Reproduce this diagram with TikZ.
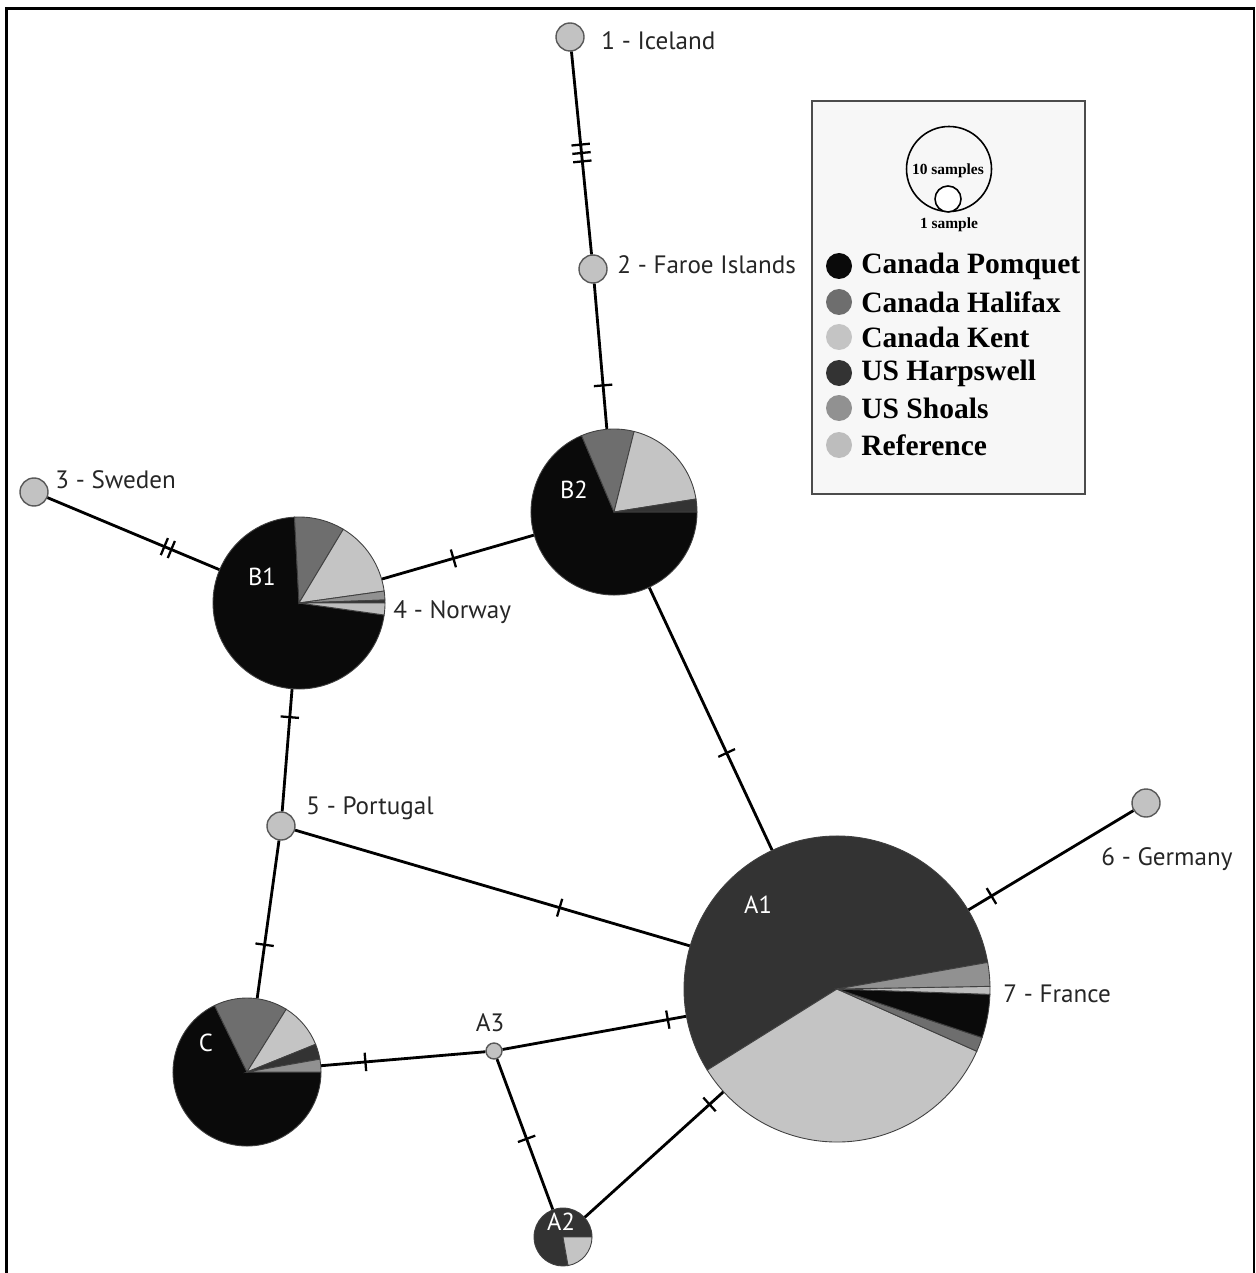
\documentclass[tikz,border=0pt]{standalone}
\usepackage{fontspec}
\setmainfont{PT Sans}
\newfontfamily\legendfont{Liberation Serif}
\usetikzlibrary{positioning}

\definecolor{pomquet}{gray}{0.04}
\definecolor{halifax}{gray}{0.43}
\definecolor{kent}{gray}{0.77}
\definecolor{harpswell}{gray}{0.2}
\definecolor{shoals}{gray}{0.57}
\definecolor{reference}{gray}{0.74}
\definecolor{sitegray}{gray}{0.76}

% one wedge of a haplotype pie: node, start, end, radius, colour
\newcommand{\pieslice}[5]{%
  \filldraw[fill=#5, draw=black!75, line width=0.5pt] (#1.center) -- ++(#2:#4)
    arc[start angle=#2, end angle=#3, radius=#4] -- cycle;}
\newcommand{\onebar}{\rule{1.3pt}{10.5pt}}
\newcommand{\twobar}{\onebar\hspace{3pt}\onebar}
\newcommand{\threebar}{\onebar\hspace{3.5pt}\onebar\hspace{3.5pt}\onebar}

\tikzset{
  site/.style={circle, fill=sitegray, draw=black!65, line width=0.8pt, minimum size=28*0.02cm, inner sep=0},
  hap/.style={circle, minimum size=#1*0.04cm, inner sep=0},
  link/.style={line width=1.6pt},
  mutbar/.style={sloped, inner sep=0, pos=#1},
  place/.style={anchor=west, inner sep=0, text=black!85, font=\fontsize{14.3}{16}\selectfont},
  hapname/.style={text=white, inner sep=0, font=\fontsize{14}{16}\selectfont},
  legtext/.style={anchor=west, inner sep=0, font=\legendfont\bfseries\fontsize{16.8}{19}\selectfont},
  legsmall/.style={inner sep=0, font=\legendfont\bfseries\fontsize{8.8}{9}\selectfont},
}

\begin{document}
\begin{tikzpicture}[x=0.02cm, y=0.02cm]
        \useasboundingbox (0,0) rectangle (1255,-1273);
        \draw[line width=1.5pt] (6.3,-1273) -- (6.3,-8.2) -- (1253.8,-8.2) -- (1253.8,-1273);

        % sampling sites
        \node[site] (ice) at (570,-37) {};
        \node[site] (far) at (593,-269) {};
        \node[site] (swe) at (34,-492) {};
        \node[site] (por) at (281,-826) {};
        \node[site] (ger) at (1146,-803) {};
        \node[site, minimum size=16*0.02cm] (A3) at (494,-1051) {};
        % haplotypes
        \node[hap=86] (B1) at (299,-603) {};
        \node[hap=83] (B2) at (614,-512) {};
        \node[hap=153] (A1) at (837,-989) {};
        \node[hap=74] (C) at (247,-1072) {};
        \node[hap=29] (A2) at (563,-1237) {};

        % links with mutation steps
        \draw[link] (ice) -- node[mutbar=.5] {\threebar} (far);
        \draw[link] (far) -- node[mutbar=.7] {\onebar} (B2);
        \draw[link] (swe) -- node[mutbar=.7] {\twobar} (B1);
        \draw[link] (B1) -- node[mutbar=.47] {\onebar} (B2);
        \draw[link] (B2) -- node[mutbar=.63] {\onebar} (A1);
        \draw[link] (B1) -- node[mutbar=.23] {\onebar} (por);
        \draw[link] (por) -- node[mutbar=.67] {\onebar} (A1);
        \draw[link] (por) -- node[mutbar=.66] {\onebar} (C);
        \draw[link] (C) -- node[mutbar=.27] {\onebar} (A3);
        \draw[link] (A3) -- node[mutbar=.9] {\onebar} (A1);
        \draw[link] (A3) -- node[mutbar=.53] {\onebar} (A2);
        \draw[link] (A2) -- node[mutbar=.9] {\onebar} (A1);
        \draw[link] (ger) -- node[mutbar=.86] {\onebar} (A1);

        % pies
        \pieslice{B1}{93}{352}{86}{pomquet}
        \pieslice{B1}{59}{93}{86}{halifax}
        \pieslice{B1}{8}{59}{86}{kent}
        \pieslice{B1}{2}{8}{86}{shoals}
        \pieslice{B1}{0}{2}{86}{harpswell}
        \pieslice{B1}{-8}{0}{86}{reference}

        \pieslice{B2}{113}{360}{83}{pomquet}
        \pieslice{B2}{76}{113}{83}{halifax}
        \pieslice{B2}{9}{76}{83}{kent}
        \pieslice{B2}{0}{9}{83}{harpswell}

        \pieslice{A1}{10}{212}{153}{harpswell}
        \pieslice{A1}{212}{336}{153}{kent}
        \pieslice{A1}{336}{341.5}{153}{halifax}
        \pieslice{A1}{341.5}{358}{153}{pomquet}
        \pieslice{A1}{358}{361}{153}{reference}
        \pieslice{A1}{361}{370}{153}{shoals}

        \pieslice{C}{116}{360}{74}{pomquet}
        \pieslice{C}{58}{116}{74}{halifax}
        \pieslice{C}{22}{58}{74}{kent}
        \pieslice{C}{10}{22}{74}{harpswell}
        \pieslice{C}{0}{10}{74}{shoals}

        \pieslice{A2}{0}{280}{29}{harpswell}
        \pieslice{A2}{280}{360}{29}{kent}

        % names
        \node[hapname] (B1name) at (262,-577) {B1};
        \node[hapname] (B2name) at (574,-490) {B2};
        \node[hapname] (A1name) at (758,-905) {A1};
        \node[hapname] (Cname) at (206,-1043) {C};
        \node[hapname] (A2name) at (561,-1222) {A2};
        \node[place, anchor=center] (A3name) at (490,-1023) {A3};

        \node[place] (icename) at (601,-41) {1 - Iceland};
        \node[place] (farname) at (617,-265) {2 - Faroe Islands};
        \node[place] (swename) at (55,-480) {3 - Sweden};
        \node[place] (norname) at (393,-612) {4 - Norway};
        \node[place] (porname) at (306,-808) {5 - Portugal};
        \node[place] (gername) at (1101,-859) {6 - Germany};
        \node[place] (franame) at (1003,-994) {7 - France};

        % legend
        \node[draw=black!70, fill=black!3, line width=0.8pt, minimum width=273*0.02cm,
              minimum height=393*0.02cm, inner sep=0] (legend) at (948.5,-297.5) {};
        \draw[line width=0.9pt] (949,-169) circle[radius=42.5];
        \draw[line width=0.9pt, fill=white] (948,-199) circle[radius=13];
        \node[legsmall] (ten) at (948,-171) {10 samples};
        \node[legsmall] (one) at (949,-225) {1 sample};
        \foreach \c/\t/\y in {pomquet/Canada Pomquet/266, halifax/Canada Halifax/302,
                              kent/Canada Kent/337, harpswell/US Harpswell/373,
                              shoals/US Shoals/408, reference/Reference/445} {
          \fill[\c] (839,-\y) circle[radius=13];
          \node[legtext] (leg\c) at (861,-\y) {\t};
        }
\end{tikzpicture}
\end{document}
